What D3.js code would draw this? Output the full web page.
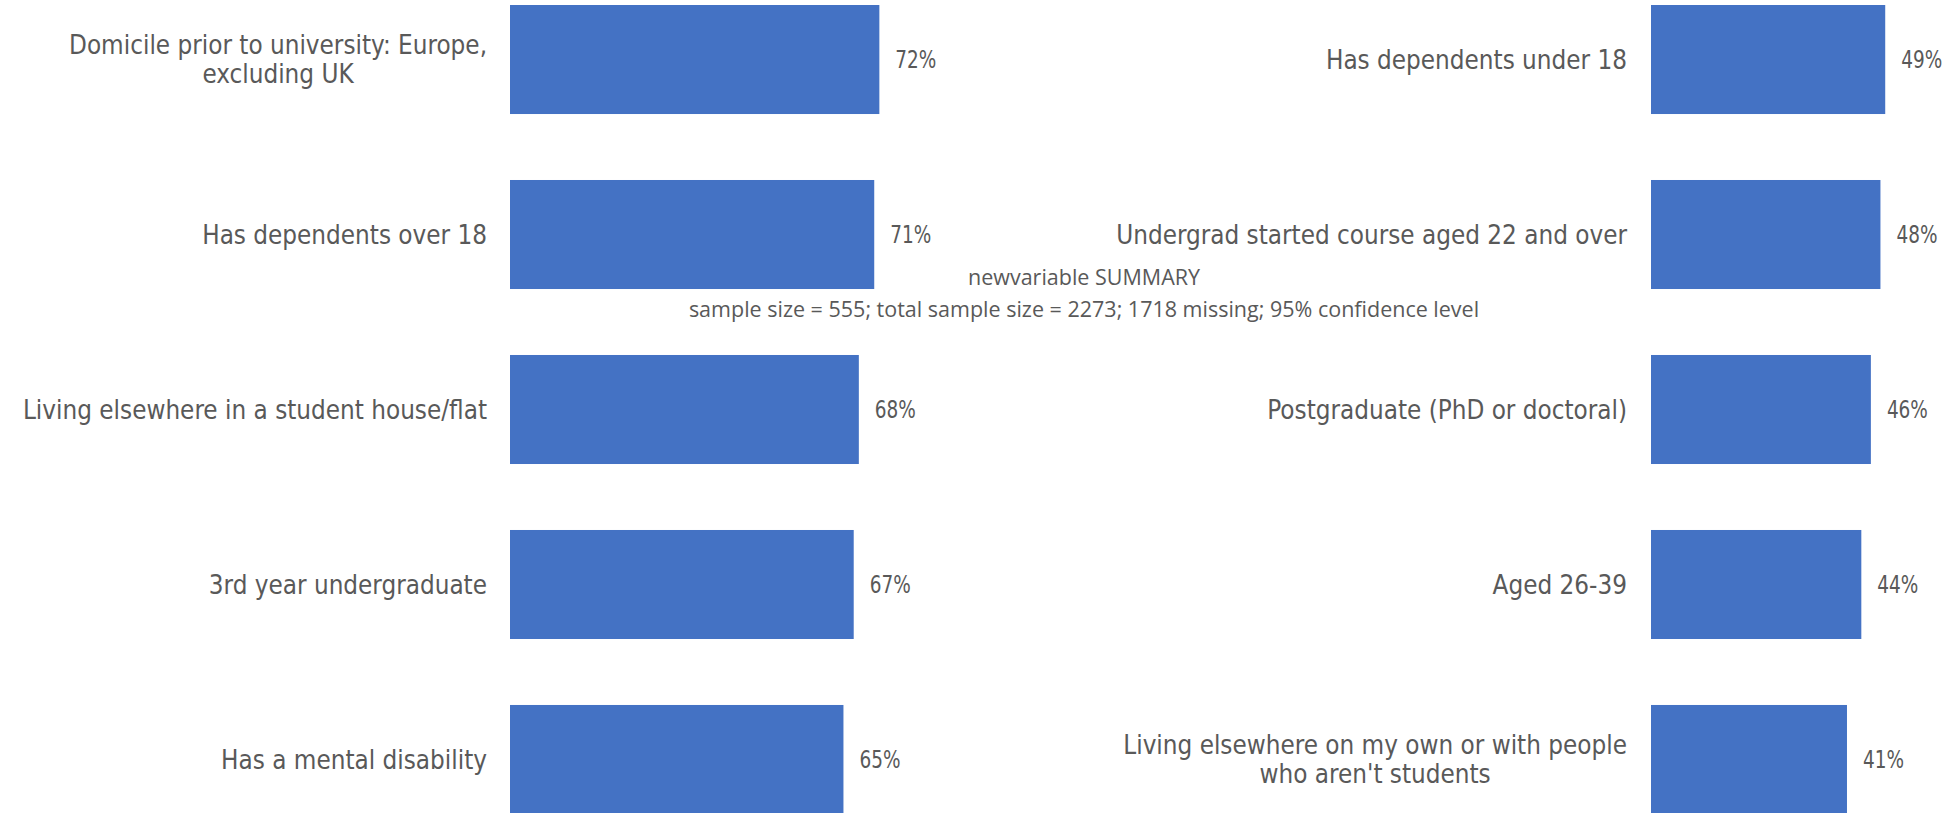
<!DOCTYPE html>
<html>
<head>
<meta charset="utf-8">
<script src="https://cdn.jsdelivr.net/npm/d3@7/dist/d3.min.js"></script>
<style>
  html, body { margin: 0; padding: 0; background: #fff; }
  svg { display: block; }
  .lbl, .val { font-family: "DejaVu Sans", sans-serif; font-stretch: condensed; }
  .sum { font-family: "Open Sans", sans-serif; }
</style>
</head>
<body>
<svg id="chart" width="1950" height="813"></svg>
<script>
// Left panel: categories and percentages
const leftCategories = [
  "Domicile prior to university: Europe,\nexcluding UK",
  "Has dependents over 18",
  "Living elsewhere in a student house/flat",
  "3rd year undergraduate",
  "Has a mental disability"
];
const leftValues = [72, 71, 68, 67, 65];

// Right panel: categories and percentages
const rightCategories = [
  "Has dependents under 18",
  "Undergrad started course aged 22 and over",
  "Postgraduate (PhD or doctoral)",
  "Aged 26-39",
  "Living elsewhere on my own or with people\nwho aren't students"
];
const rightValues = [49, 48, 46, 44, 41];

// Summary lines
const summaryLines = [
  "newvariable SUMMARY",
  "sample size = 555; total sample size = 2273; 1718 missing; 95% confidence level"
];

const svg = d3.select("#chart");
const textColor = "#595959";
const barColor = "#4472C4";
const labelSize = 25.8;
const valueSize = 25;
const figureSqueeze = 0.82;   // narrow figures for the percentage labels
const lineGap = 29;

const pct = v => v + "%";

function drawPanel(categories, values, cfg) {
  const y = d3.scaleBand()
    .domain(categories)
    .range([-28, 847])
    .paddingInner(0.377)
    .paddingOuter(0.1886);

  const x = d3.scaleLinear()
    .domain([0, 100])
    .range([cfg.x0, cfg.x0 + cfg.span]);

  const g = svg.append("g");

  g.selectAll("rect.bar")
    .data(categories)
    .join("rect")
    .attr("class", "bar")
    .attr("x", x(0))
    .attr("y", d => y(d))
    .attr("width", (d, i) => x(values[i]) - x(0))
    .attr("height", y.bandwidth())
    .attr("fill", barColor);

  // value labels at bar ends
  g.selectAll("text.val")
    .data(categories)
    .join("text")
    .attr("class", "val")
    .attr("x", (d, i) => x(values[i]) + 16)
    .attr("y", d => y(d) + y.bandwidth() / 2)
    .attr("dy", "0.35em")
    .attr("font-size", valueSize)
    .attr("fill", textColor)
    .text((d, i) => pct(values[i]))
    .each(function () {
      const w = this.getComputedTextLength();
      d3.select(this)
        .attr("textLength", w * figureSqueeze)
        .attr("lengthAdjust", "spacingAndGlyphs");
    });

  // category labels, lines centred on each other, block right-aligned
  categories.forEach(cat => {
    const lines = cat.split("\n");
    const cy = y(cat) + y.bandwidth() / 2;
    const t = g.append("text")
      .attr("class", "lbl")
      .attr("font-size", labelSize)
      .attr("fill", textColor)
      .attr("text-anchor", "middle");
    const spans = lines.map((ln, i) =>
      t.append("tspan")
        .attr("y", cy + (i - (lines.length - 1) / 2) * lineGap)
        .attr("dy", "0.35em")
        .text(ln)
    );
    const maxW = d3.max(spans, s => s.node().getComputedTextLength());
    const cx = x(0) - cfg.labelGap - maxW / 2;
    spans.forEach(s => s.attr("x", cx));
  });
}

drawPanel(leftCategories, leftValues, { x0: 510, span: 513, labelGap: 23 });
drawPanel(rightCategories, rightValues, { x0: 1651, span: 478, labelGap: 24 });

// summary text
svg.append("g")
  .selectAll("text")
  .data(summaryLines)
  .join("text")
  .attr("class", "sum")
  .attr("x", 1084)
  .attr("y", (d, i) => 284.5 + i * 32)
  .attr("text-anchor", "middle")
  .attr("font-size", 21.5)
  .attr("fill", textColor)
  .text(d => d);
</script>
</body>
</html>
